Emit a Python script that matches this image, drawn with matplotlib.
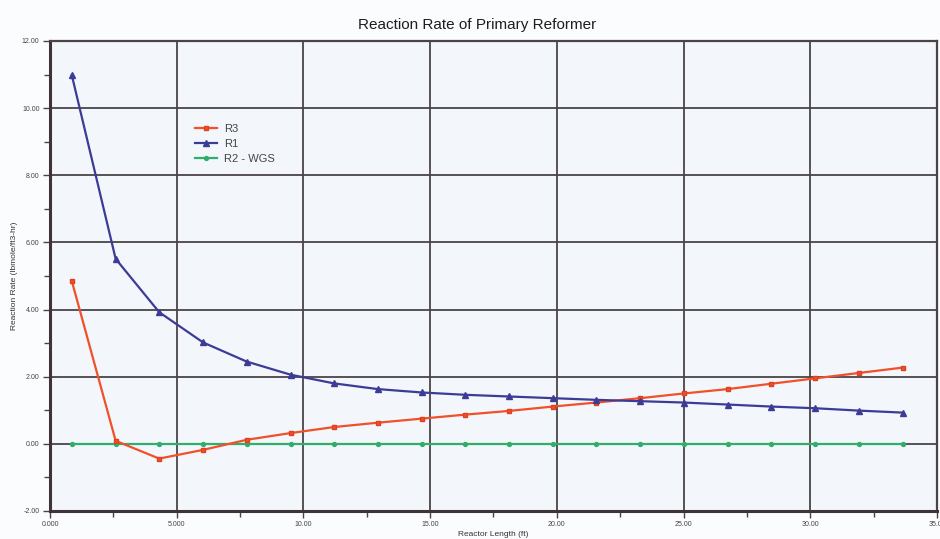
import matplotlib
matplotlib.use("Agg")
import matplotlib.pyplot as plt
from matplotlib.ticker import MultipleLocator, FixedLocator, FixedFormatter

# cell midpoints along the reactor (ft)
length_ft = [0.86, 2.59, 4.31, 6.04, 7.76, 9.49, 11.21, 12.94, 14.66, 16.39,
             18.11, 19.84, 21.56, 23.29, 25.01, 26.74, 28.46, 30.19, 31.91, 33.64]

# reaction rates (lbmole/ft3-hr)
r3 = [4.85, 0.09, -0.44, -0.18, 0.12, 0.32, 0.50, 0.63, 0.75, 0.87,
      0.98, 1.11, 1.23, 1.36, 1.50, 1.63, 1.79, 1.95, 2.11, 2.27]
r1 = [10.98, 5.51, 3.92, 3.02, 2.45, 2.06, 1.80, 1.63, 1.53, 1.46,
      1.41, 1.36, 1.31, 1.27, 1.23, 1.17, 1.11, 1.06, 0.99, 0.93]
r2_wgs = [0.0] * 20

x_ticks = [0, 5, 10, 15, 20, 25, 30, 35]
x_labels = ["0.000", "5.000", "10.00", "15.00", "20.00", "25.00", "30.00", "35.00"]
y_ticks = [-2, 0, 2, 4, 6, 8, 10, 12]
y_labels = ["-2.00", "0.00", "2.00", "4.00", "6.00", "8.00", "10.00", "12.00"]

plt.rcParams['font.family'] = ['Liberation Sans', 'DejaVu Sans']

fig = plt.figure(figsize=(9.4, 5.39), dpi=100, facecolor="#fbfcfe")
ax = fig.add_axes([0.0532, 0.052, 0.9436, 0.872])
ax.set_facecolor("#f3f6fa")

ax.plot(length_ft, r3, color="#f0502a", lw=1.6, marker="s", ms=3.5,
        mfc="#f0502a", mec="#e04020", label="R3", zorder=4)
ax.plot(length_ft, r1, color="#3c3c96", lw=1.6, marker="^", ms=4,
        label="R1", zorder=4)
ax.plot(length_ft, r2_wgs, color="#2fae6e", lw=1.6, marker="o", ms=2.8,
        label="R2 - WGS", zorder=3)

ax.set_xlim(0, 35)
ax.set_ylim(-2, 12)
ax.xaxis.set_major_locator(FixedLocator(x_ticks))
ax.xaxis.set_major_formatter(FixedFormatter(x_labels))
ax.yaxis.set_major_locator(FixedLocator(y_ticks))
ax.yaxis.set_major_formatter(FixedFormatter(y_labels))
ax.xaxis.set_minor_locator(MultipleLocator(2.5))
ax.yaxis.set_minor_locator(MultipleLocator(1))

ax.grid(True, which="major", color="#4a4448", lw=1.3, zorder=1)
ax.tick_params(which="major", direction="out", length=5, width=1,
               colors="#4a4448", labelsize=5, labelcolor="#444444", pad=2.5)
ax.tick_params(which="minor", direction="out", length=4, width=1,
               colors="#4a4448")

for side in ["left", "bottom"]:
    ax.spines[side].set_linewidth(2.2)
    ax.spines[side].set_color("#3e3438")
for side in ["top", "right"]:
    ax.spines[side].set_linewidth(1.6)
    ax.spines[side].set_color("#4a4448")

ax.set_xlabel("Reactor Length (ft)", fontsize=6, color="#333333", labelpad=2)
ax.set_ylabel("Reaction Rate (lbmole/ft3-hr)", fontsize=6, color="#333333", labelpad=3)
fig.text(0.508, 0.954, "Reaction Rate of Primary Reformer", ha="center",
         va="center", fontsize=11, color="#1e1e1e")

leg = ax.legend(loc="upper left", bbox_to_anchor=(0.152, 0.845), frameon=False,
                fontsize=8, handlelength=2.0, labelspacing=0.45,
                handletextpad=0.6)
for t in leg.get_texts():
    t.set_color("#444444")

fig.savefig("out.png", dpi=100, facecolor=fig.get_facecolor())
